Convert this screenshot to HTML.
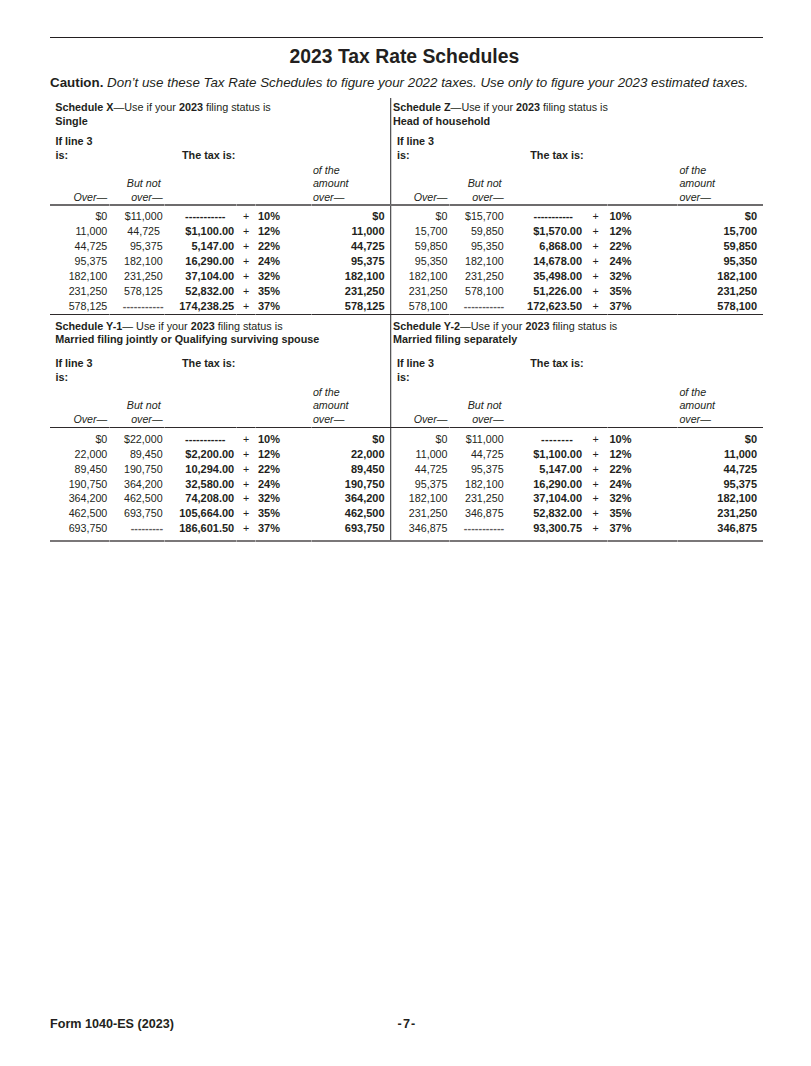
<!DOCTYPE html><html><head><meta charset="utf-8"><style>
html,body{margin:0;padding:0;background:#fff;}
body{width:811px;height:1066px;position:relative;overflow:hidden;font-family:"Liberation Sans",sans-serif;color:#231f20;}
.t{position:absolute;white-space:nowrap;line-height:0;height:0;}
.ln{position:absolute;}
b{font-weight:bold;}
.title{font-size:19.34px;font-weight:bold;}
.caut{font-size:13.35px;}
.h{font-size:10.8px;}
.it{font-size:10.7px;font-style:italic;}
.n{font-size:10.7px;}
.foot{font-size:12.6px;font-weight:bold;}
.bn{font-size:11px;font-weight:bold;}
</style></head><body>

<div class="ln" style="left:50.00px;top:37.00px;width:713.00px;height:1.00px;background:#231f20"></div>
<div class="t title" style="top:56.29px;left:4.40px;width:800px;text-align:center;">2023 Tax Rate Schedules</div>
<div class="t caut" style="top:83.37px;left:50.00px;"><b>Caution.</b> <i>Don’t use these Tax Rate Schedules to figure your 2022 taxes. Use only to figure your 2023 estimated taxes.</i></div>
<div class="ln" style="left:390.00px;top:98.00px;width:1.00px;height:444.00px;background:#555557"></div>
<div class="ln" style="left:391.00px;top:98.00px;width:1.00px;height:444.00px;background:#cfcfcf"></div>
<div class="t h" style="top:106.86px;left:55.30px;"><b>Schedule X</b>—Use if your <b>2023</b> filing status is</div>
<div class="t h" style="top:120.86px;left:55.30px;"><b>Single</b></div>
<div class="t h" style="top:140.86px;left:55.40px;"><b>If line 3</b></div>
<div class="t h" style="top:154.86px;left:55.40px;"><b>is:</b></div>
<div class="t h" style="top:154.86px;left:182.00px;"><b>The tax is:</b></div>
<div class="t it" style="top:169.89px;left:312.90px;">of the</div>
<div class="t it" style="top:182.89px;left:312.90px;">amount</div>
<div class="t it" style="top:196.89px;left:312.90px;">over—</div>
<div class="t it" style="top:182.89px;left:126.80px;">But not</div>
<div class="t it" style="top:196.89px;right:648.40px;">over—</div>
<div class="t it" style="top:196.89px;right:703.70px;">Over—</div>
<div class="ln" style="left:50.00px;top:204.00px;width:340.00px;height:2.00px;background:#6e6c6d"></div>
<div class="ln" style="left:109.00px;top:204.00px;width:1.00px;height:2.00px;background:rgba(255,255,255,0.4)"></div>
<div class="ln" style="left:164.00px;top:204.00px;width:1.00px;height:2.00px;background:rgba(255,255,255,0.4)"></div>
<div class="ln" style="left:236.00px;top:204.00px;width:1.00px;height:2.00px;background:rgba(255,255,255,0.4)"></div>
<div class="ln" style="left:255.00px;top:204.00px;width:1.00px;height:2.00px;background:rgba(255,255,255,0.4)"></div>
<div class="ln" style="left:311.00px;top:204.00px;width:1.00px;height:2.00px;background:rgba(255,255,255,0.4)"></div>
<div class="t n" style="top:216.39px;right:703.70px;">$0</div>
<div class="t n" style="top:216.39px;right:648.40px;">$11,000</div>
<div class="t" style="top:215.94px;left:185.07px;font-size:11px;letter-spacing:0.018px;color:#231f20;font-weight:bold">-----------</div>
<div class="t n" style="top:216.39px;left:-154.00px;width:800px;text-align:center;">+</div>
<div class="t bn" style="top:216.29px;left:257.90px;">10%</div>
<div class="t bn" style="top:216.29px;right:426.40px;">$0</div>
<div class="t n" style="top:231.27px;right:703.70px;">11,000</div>
<div class="t n" style="top:231.27px;right:651.00px;">44,725</div>
<div class="t bn" style="top:231.17px;right:576.80px;">$1,100.00</div>
<div class="t n" style="top:231.27px;left:-154.00px;width:800px;text-align:center;">+</div>
<div class="t bn" style="top:231.17px;left:257.90px;">12%</div>
<div class="t bn" style="top:231.17px;right:426.40px;">11,000</div>
<div class="t n" style="top:246.15px;right:703.70px;">44,725</div>
<div class="t n" style="top:246.15px;right:648.40px;">95,375</div>
<div class="t bn" style="top:246.05px;right:576.80px;">5,147.00</div>
<div class="t n" style="top:246.15px;left:-154.00px;width:800px;text-align:center;">+</div>
<div class="t bn" style="top:246.05px;left:257.90px;">22%</div>
<div class="t bn" style="top:246.05px;right:426.40px;">44,725</div>
<div class="t n" style="top:261.03px;right:703.70px;">95,375</div>
<div class="t n" style="top:261.03px;right:648.40px;">182,100</div>
<div class="t bn" style="top:260.93px;right:576.80px;">16,290.00</div>
<div class="t n" style="top:261.03px;left:-154.00px;width:800px;text-align:center;">+</div>
<div class="t bn" style="top:260.93px;left:257.90px;">24%</div>
<div class="t bn" style="top:260.93px;right:426.40px;">95,375</div>
<div class="t n" style="top:275.91px;right:703.70px;">182,100</div>
<div class="t n" style="top:275.91px;right:648.40px;">231,250</div>
<div class="t bn" style="top:275.81px;right:576.80px;">37,104.00</div>
<div class="t n" style="top:275.91px;left:-154.00px;width:800px;text-align:center;">+</div>
<div class="t bn" style="top:275.81px;left:257.90px;">32%</div>
<div class="t bn" style="top:275.81px;right:426.40px;">182,100</div>
<div class="t n" style="top:290.79px;right:703.70px;">231,250</div>
<div class="t n" style="top:290.79px;right:648.40px;">578,125</div>
<div class="t bn" style="top:290.69px;right:576.80px;">52,832.00</div>
<div class="t n" style="top:290.79px;left:-154.00px;width:800px;text-align:center;">+</div>
<div class="t bn" style="top:290.69px;left:257.90px;">35%</div>
<div class="t bn" style="top:290.69px;right:426.40px;">231,250</div>
<div class="t n" style="top:305.67px;right:703.70px;">578,125</div>
<div class="t" style="top:305.73px;left:122.68px;font-size:10.8px;letter-spacing:0.129px;color:#5f5c5d;font-weight:bold">-----------</div>
<div class="t bn" style="top:305.57px;right:576.80px;">174,238.25</div>
<div class="t n" style="top:305.67px;left:-154.00px;width:800px;text-align:center;">+</div>
<div class="t bn" style="top:305.57px;left:257.90px;">37%</div>
<div class="t bn" style="top:305.57px;right:426.40px;">578,125</div>
<div class="ln" style="left:50.00px;top:314.00px;width:340.00px;height:1.00px;background:#2e2a2b"></div>
<div class="ln" style="left:109.00px;top:314.00px;width:1.00px;height:1.00px;background:rgba(255,255,255,0.4)"></div>
<div class="ln" style="left:164.00px;top:314.00px;width:1.00px;height:1.00px;background:rgba(255,255,255,0.4)"></div>
<div class="ln" style="left:236.00px;top:314.00px;width:1.00px;height:1.00px;background:rgba(255,255,255,0.4)"></div>
<div class="ln" style="left:255.00px;top:314.00px;width:1.00px;height:1.00px;background:rgba(255,255,255,0.4)"></div>
<div class="ln" style="left:311.00px;top:314.00px;width:1.00px;height:1.00px;background:rgba(255,255,255,0.4)"></div>
<div class="t h" style="top:106.86px;left:393.00px;"><b>Schedule Z</b>—Use if your <b>2023</b> filing status is</div>
<div class="t h" style="top:120.86px;left:393.00px;"><b>Head of household</b></div>
<div class="t h" style="top:140.86px;left:396.90px;"><b>If line 3</b></div>
<div class="t h" style="top:154.86px;left:396.90px;"><b>is:</b></div>
<div class="t h" style="top:154.86px;left:530.20px;"><b>The tax is:</b></div>
<div class="t it" style="top:169.89px;left:679.40px;">of the</div>
<div class="t it" style="top:182.89px;left:679.40px;">amount</div>
<div class="t it" style="top:196.89px;left:679.40px;">over—</div>
<div class="t it" style="top:182.89px;left:467.70px;">But not</div>
<div class="t it" style="top:196.89px;right:307.40px;">over—</div>
<div class="t it" style="top:196.89px;right:363.50px;">Over—</div>
<div class="ln" style="left:390.00px;top:204.00px;width:373.00px;height:2.00px;background:#6e6c6d"></div>
<div class="ln" style="left:449.00px;top:204.00px;width:1.00px;height:2.00px;background:rgba(255,255,255,0.4)"></div>
<div class="ln" style="left:607.00px;top:204.00px;width:1.00px;height:2.00px;background:rgba(255,255,255,0.4)"></div>
<div class="ln" style="left:677.00px;top:204.00px;width:1.00px;height:2.00px;background:rgba(255,255,255,0.4)"></div>
<div class="t n" style="top:216.39px;right:363.50px;">$0</div>
<div class="t n" style="top:216.39px;right:307.40px;">$15,700</div>
<div class="t" style="top:215.94px;left:533.57px;font-size:11px;letter-spacing:-0.082px;color:#231f20;font-weight:bold">-----------</div>
<div class="t n" style="top:216.39px;left:195.70px;width:800px;text-align:center;">+</div>
<div class="t bn" style="top:216.29px;left:609.50px;">10%</div>
<div class="t bn" style="top:216.29px;right:53.90px;">$0</div>
<div class="t n" style="top:231.27px;right:363.50px;">15,700</div>
<div class="t n" style="top:231.27px;right:307.40px;">59,850</div>
<div class="t bn" style="top:231.17px;right:228.90px;">$1,570.00</div>
<div class="t n" style="top:231.27px;left:195.70px;width:800px;text-align:center;">+</div>
<div class="t bn" style="top:231.17px;left:609.50px;">12%</div>
<div class="t bn" style="top:231.17px;right:53.90px;">15,700</div>
<div class="t n" style="top:246.15px;right:363.50px;">59,850</div>
<div class="t n" style="top:246.15px;right:307.40px;">95,350</div>
<div class="t bn" style="top:246.05px;right:228.90px;">6,868.00</div>
<div class="t n" style="top:246.15px;left:195.70px;width:800px;text-align:center;">+</div>
<div class="t bn" style="top:246.05px;left:609.50px;">22%</div>
<div class="t bn" style="top:246.05px;right:53.90px;">59,850</div>
<div class="t n" style="top:261.03px;right:363.50px;">95,350</div>
<div class="t n" style="top:261.03px;right:307.40px;">182,100</div>
<div class="t bn" style="top:260.93px;right:228.90px;">14,678.00</div>
<div class="t n" style="top:261.03px;left:195.70px;width:800px;text-align:center;">+</div>
<div class="t bn" style="top:260.93px;left:609.50px;">24%</div>
<div class="t bn" style="top:260.93px;right:53.90px;">95,350</div>
<div class="t n" style="top:275.91px;right:363.50px;">182,100</div>
<div class="t n" style="top:275.91px;right:307.40px;">231,250</div>
<div class="t bn" style="top:275.81px;right:228.90px;">35,498.00</div>
<div class="t n" style="top:275.91px;left:195.70px;width:800px;text-align:center;">+</div>
<div class="t bn" style="top:275.81px;left:609.50px;">32%</div>
<div class="t bn" style="top:275.81px;right:53.90px;">182,100</div>
<div class="t n" style="top:290.79px;right:363.50px;">231,250</div>
<div class="t n" style="top:290.79px;right:307.40px;">578,100</div>
<div class="t bn" style="top:290.69px;right:228.90px;">51,226.00</div>
<div class="t n" style="top:290.79px;left:195.70px;width:800px;text-align:center;">+</div>
<div class="t bn" style="top:290.69px;left:609.50px;">35%</div>
<div class="t bn" style="top:290.69px;right:53.90px;">231,250</div>
<div class="t n" style="top:305.67px;right:363.50px;">578,100</div>
<div class="t" style="top:305.73px;left:463.78px;font-size:10.8px;letter-spacing:0.089px;color:#5f5c5d;font-weight:bold">-----------</div>
<div class="t bn" style="top:305.57px;right:228.90px;">172,623.50</div>
<div class="t n" style="top:305.67px;left:195.70px;width:800px;text-align:center;">+</div>
<div class="t bn" style="top:305.57px;left:609.50px;">37%</div>
<div class="t bn" style="top:305.57px;right:53.90px;">578,100</div>
<div class="ln" style="left:390.00px;top:314.00px;width:373.00px;height:1.00px;background:#2e2a2b"></div>
<div class="ln" style="left:449.00px;top:314.00px;width:1.00px;height:1.00px;background:rgba(255,255,255,0.4)"></div>
<div class="ln" style="left:607.00px;top:314.00px;width:1.00px;height:1.00px;background:rgba(255,255,255,0.4)"></div>
<div class="ln" style="left:677.00px;top:314.00px;width:1.00px;height:1.00px;background:rgba(255,255,255,0.4)"></div>
<div class="t h" style="top:325.86px;left:55.30px;"><b>Schedule Y-1</b>— Use if your <b>2023</b> filing status is</div>
<div class="t h" style="top:338.66px;left:55.30px;"><b>Married filing jointly or Qualifying surviving spouse</b></div>
<div class="t h" style="top:363.06px;left:55.40px;"><b>If line 3</b></div>
<div class="t h" style="top:377.06px;left:55.40px;"><b>is:</b></div>
<div class="t h" style="top:363.06px;left:182.00px;"><b>The tax is:</b></div>
<div class="t it" style="top:392.09px;left:312.90px;">of the</div>
<div class="t it" style="top:405.09px;left:312.90px;">amount</div>
<div class="t it" style="top:419.09px;left:312.90px;">over—</div>
<div class="t it" style="top:405.09px;left:126.80px;">But not</div>
<div class="t it" style="top:419.09px;right:648.40px;">over—</div>
<div class="t it" style="top:419.09px;right:703.70px;">Over—</div>
<div class="ln" style="left:50.00px;top:427.00px;width:340.00px;height:1.00px;background:#2e2a2b"></div>
<div class="ln" style="left:109.00px;top:427.00px;width:1.00px;height:1.00px;background:rgba(255,255,255,0.4)"></div>
<div class="ln" style="left:164.00px;top:427.00px;width:1.00px;height:1.00px;background:rgba(255,255,255,0.4)"></div>
<div class="ln" style="left:236.00px;top:427.00px;width:1.00px;height:1.00px;background:rgba(255,255,255,0.4)"></div>
<div class="ln" style="left:255.00px;top:427.00px;width:1.00px;height:1.00px;background:rgba(255,255,255,0.4)"></div>
<div class="ln" style="left:311.00px;top:427.00px;width:1.00px;height:1.00px;background:rgba(255,255,255,0.4)"></div>
<div class="t n" style="top:439.49px;right:703.70px;">$0</div>
<div class="t n" style="top:439.49px;right:648.40px;">$22,000</div>
<div class="t" style="top:439.04px;left:185.07px;font-size:11px;letter-spacing:0.018px;color:#231f20;font-weight:bold">-----------</div>
<div class="t n" style="top:439.49px;left:-154.00px;width:800px;text-align:center;">+</div>
<div class="t bn" style="top:439.39px;left:257.90px;">10%</div>
<div class="t bn" style="top:439.39px;right:426.40px;">$0</div>
<div class="t n" style="top:454.21px;right:703.70px;">22,000</div>
<div class="t n" style="top:454.21px;right:648.40px;">89,450</div>
<div class="t bn" style="top:454.11px;right:576.80px;">$2,200.00</div>
<div class="t n" style="top:454.21px;left:-154.00px;width:800px;text-align:center;">+</div>
<div class="t bn" style="top:454.11px;left:257.90px;">12%</div>
<div class="t bn" style="top:454.11px;right:426.40px;">22,000</div>
<div class="t n" style="top:468.93px;right:703.70px;">89,450</div>
<div class="t n" style="top:468.93px;right:648.40px;">190,750</div>
<div class="t bn" style="top:468.83px;right:576.80px;">10,294.00</div>
<div class="t n" style="top:468.93px;left:-154.00px;width:800px;text-align:center;">+</div>
<div class="t bn" style="top:468.83px;left:257.90px;">22%</div>
<div class="t bn" style="top:468.83px;right:426.40px;">89,450</div>
<div class="t n" style="top:483.65px;right:703.70px;">190,750</div>
<div class="t n" style="top:483.65px;right:648.40px;">364,200</div>
<div class="t bn" style="top:483.55px;right:576.80px;">32,580.00</div>
<div class="t n" style="top:483.65px;left:-154.00px;width:800px;text-align:center;">+</div>
<div class="t bn" style="top:483.55px;left:257.90px;">24%</div>
<div class="t bn" style="top:483.55px;right:426.40px;">190,750</div>
<div class="t n" style="top:498.37px;right:703.70px;">364,200</div>
<div class="t n" style="top:498.37px;right:648.40px;">462,500</div>
<div class="t bn" style="top:498.27px;right:576.80px;">74,208.00</div>
<div class="t n" style="top:498.37px;left:-154.00px;width:800px;text-align:center;">+</div>
<div class="t bn" style="top:498.27px;left:257.90px;">32%</div>
<div class="t bn" style="top:498.27px;right:426.40px;">364,200</div>
<div class="t n" style="top:513.09px;right:703.70px;">462,500</div>
<div class="t n" style="top:513.09px;right:648.40px;">693,750</div>
<div class="t bn" style="top:512.99px;right:576.80px;">105,664.00</div>
<div class="t n" style="top:513.09px;left:-154.00px;width:800px;text-align:center;">+</div>
<div class="t bn" style="top:512.99px;left:257.90px;">35%</div>
<div class="t bn" style="top:512.99px;right:426.40px;">462,500</div>
<div class="t n" style="top:527.81px;right:703.70px;">693,750</div>
<div class="t" style="top:527.87px;left:130.78px;font-size:10.8px;letter-spacing:-0.014px;color:#5f5c5d;font-weight:bold">---------</div>
<div class="t bn" style="top:527.71px;right:576.80px;">186,601.50</div>
<div class="t n" style="top:527.81px;left:-154.00px;width:800px;text-align:center;">+</div>
<div class="t bn" style="top:527.71px;left:257.90px;">37%</div>
<div class="t bn" style="top:527.71px;right:426.40px;">693,750</div>
<div class="ln" style="left:50.00px;top:540.00px;width:340.00px;height:2.00px;background:#7a7778"></div>
<div class="ln" style="left:109.00px;top:540.00px;width:1.00px;height:2.00px;background:rgba(255,255,255,0.4)"></div>
<div class="ln" style="left:164.00px;top:540.00px;width:1.00px;height:2.00px;background:rgba(255,255,255,0.4)"></div>
<div class="ln" style="left:236.00px;top:540.00px;width:1.00px;height:2.00px;background:rgba(255,255,255,0.4)"></div>
<div class="ln" style="left:255.00px;top:540.00px;width:1.00px;height:2.00px;background:rgba(255,255,255,0.4)"></div>
<div class="ln" style="left:311.00px;top:540.00px;width:1.00px;height:2.00px;background:rgba(255,255,255,0.4)"></div>
<div class="t h" style="top:325.86px;left:393.00px;"><b>Schedule Y-2</b>—Use if your <b>2023</b> filing status is</div>
<div class="t h" style="top:338.66px;left:393.00px;"><b>Married filing separately</b></div>
<div class="t h" style="top:363.06px;left:396.90px;"><b>If line 3</b></div>
<div class="t h" style="top:377.06px;left:396.90px;"><b>is:</b></div>
<div class="t h" style="top:363.06px;left:530.20px;"><b>The tax is:</b></div>
<div class="t it" style="top:392.09px;left:679.40px;">of the</div>
<div class="t it" style="top:405.09px;left:679.40px;">amount</div>
<div class="t it" style="top:419.09px;left:679.40px;">over—</div>
<div class="t it" style="top:405.09px;left:467.70px;">But not</div>
<div class="t it" style="top:419.09px;right:307.40px;">over—</div>
<div class="t it" style="top:419.09px;right:363.50px;">Over—</div>
<div class="ln" style="left:390.00px;top:427.00px;width:373.00px;height:1.00px;background:#2e2a2b"></div>
<div class="ln" style="left:449.00px;top:427.00px;width:1.00px;height:1.00px;background:rgba(255,255,255,0.4)"></div>
<div class="ln" style="left:607.00px;top:427.00px;width:1.00px;height:1.00px;background:rgba(255,255,255,0.4)"></div>
<div class="ln" style="left:677.00px;top:427.00px;width:1.00px;height:1.00px;background:rgba(255,255,255,0.4)"></div>
<div class="t n" style="top:439.49px;right:363.50px;">$0</div>
<div class="t n" style="top:439.49px;right:307.40px;">$11,000</div>
<div class="t" style="top:439.04px;left:540.97px;font-size:11px;letter-spacing:0.381px;color:#231f20;font-weight:bold">--------</div>
<div class="t n" style="top:439.49px;left:195.70px;width:800px;text-align:center;">+</div>
<div class="t bn" style="top:439.39px;left:609.50px;">10%</div>
<div class="t bn" style="top:439.39px;right:53.90px;">$0</div>
<div class="t n" style="top:454.21px;right:363.50px;">11,000</div>
<div class="t n" style="top:454.21px;right:307.40px;">44,725</div>
<div class="t bn" style="top:454.11px;right:228.90px;">$1,100.00</div>
<div class="t n" style="top:454.21px;left:195.70px;width:800px;text-align:center;">+</div>
<div class="t bn" style="top:454.11px;left:609.50px;">12%</div>
<div class="t bn" style="top:454.11px;right:53.90px;">11,000</div>
<div class="t n" style="top:468.93px;right:363.50px;">44,725</div>
<div class="t n" style="top:468.93px;right:307.40px;">95,375</div>
<div class="t bn" style="top:468.83px;right:228.90px;">5,147.00</div>
<div class="t n" style="top:468.93px;left:195.70px;width:800px;text-align:center;">+</div>
<div class="t bn" style="top:468.83px;left:609.50px;">22%</div>
<div class="t bn" style="top:468.83px;right:53.90px;">44,725</div>
<div class="t n" style="top:483.65px;right:363.50px;">95,375</div>
<div class="t n" style="top:483.65px;right:307.40px;">182,100</div>
<div class="t bn" style="top:483.55px;right:228.90px;">16,290.00</div>
<div class="t n" style="top:483.65px;left:195.70px;width:800px;text-align:center;">+</div>
<div class="t bn" style="top:483.55px;left:609.50px;">24%</div>
<div class="t bn" style="top:483.55px;right:53.90px;">95,375</div>
<div class="t n" style="top:498.37px;right:363.50px;">182,100</div>
<div class="t n" style="top:498.37px;right:307.40px;">231,250</div>
<div class="t bn" style="top:498.27px;right:228.90px;">37,104.00</div>
<div class="t n" style="top:498.37px;left:195.70px;width:800px;text-align:center;">+</div>
<div class="t bn" style="top:498.27px;left:609.50px;">32%</div>
<div class="t bn" style="top:498.27px;right:53.90px;">182,100</div>
<div class="t n" style="top:513.09px;right:363.50px;">231,250</div>
<div class="t n" style="top:513.09px;right:307.40px;">346,875</div>
<div class="t bn" style="top:512.99px;right:228.90px;">52,832.00</div>
<div class="t n" style="top:513.09px;left:195.70px;width:800px;text-align:center;">+</div>
<div class="t bn" style="top:512.99px;left:609.50px;">35%</div>
<div class="t bn" style="top:512.99px;right:53.90px;">231,250</div>
<div class="t n" style="top:527.81px;right:363.50px;">346,875</div>
<div class="t" style="top:527.87px;left:463.78px;font-size:10.8px;letter-spacing:0.089px;color:#5f5c5d;font-weight:bold">-----------</div>
<div class="t bn" style="top:527.71px;right:228.90px;">93,300.75</div>
<div class="t n" style="top:527.81px;left:195.70px;width:800px;text-align:center;">+</div>
<div class="t bn" style="top:527.71px;left:609.50px;">37%</div>
<div class="t bn" style="top:527.71px;right:53.90px;">346,875</div>
<div class="ln" style="left:390.00px;top:540.00px;width:373.00px;height:2.00px;background:#7a7778"></div>
<div class="ln" style="left:449.00px;top:540.00px;width:1.00px;height:2.00px;background:rgba(255,255,255,0.4)"></div>
<div class="ln" style="left:607.00px;top:540.00px;width:1.00px;height:2.00px;background:rgba(255,255,255,0.4)"></div>
<div class="ln" style="left:677.00px;top:540.00px;width:1.00px;height:2.00px;background:rgba(255,255,255,0.4)"></div>
<div class="t foot" style="top:1023.63px;left:50.00px;">Form 1040-ES (2023)</div>
<div class="t foot" style="top:1023.63px;left:7.00px;width:800px;text-align:center;"><span style="letter-spacing:1.2px">-7-</span></div>
</body></html>
